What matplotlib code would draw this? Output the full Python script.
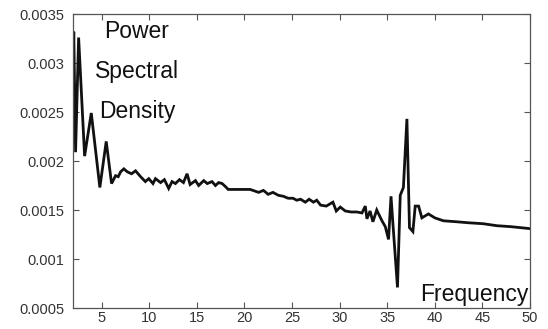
"""Power spectral density trace, single panel."""

import matplotlib

matplotlib.use("Agg")
import matplotlib.pyplot as plt

freq = [
    2.0, 2.08, 2.27, 2.59, 3.22, 3.92, 4.82, 5.49, 6.05, 6.47, 6.75, 7.0,
    7.34, 7.7, 8.15, 8.57, 9.1, 9.6, 9.96, 10.4, 10.66, 11.2, 11.6, 12.05,
    12.4, 12.76, 13.18, 13.6, 13.98, 14.3, 14.86, 15.2, 15.73, 16.1, 16.6,
    16.96, 17.3, 17.66, 18.0, 18.3, 19.0, 20.6, 21.5, 22.0, 22.5, 23.0,
    23.57, 24.1, 24.6, 25.1, 25.5, 25.9, 26.4, 26.8, 27.25, 27.6, 28.0,
    28.6, 29.3, 29.65, 30.07, 30.6, 31.2, 31.8, 32.35, 32.7, 32.87, 33.2,
    33.5, 33.9, 34.45, 34.8, 35.14, 35.4, 35.6, 36.08, 36.37, 36.7, 37.07,
    37.34, 37.7, 37.94, 38.3, 38.64, 39.33, 40.0, 40.9, 42.3, 43.5, 45.1,
    46.5, 48.0, 50.0,
]
psd = [
    0.00280, 0.00332, 0.00209, 0.00326, 0.00205, 0.00249, 0.00173, 0.00220,
    0.00177, 0.00185, 0.00184, 0.00189, 0.00192, 0.00189, 0.00187, 0.00190,
    0.00184, 0.00179, 0.00182, 0.00177, 0.00182, 0.00178, 0.00181, 0.00172,
    0.00179, 0.00177, 0.00181, 0.00178, 0.00187, 0.00176, 0.00180, 0.00175,
    0.00180, 0.00177, 0.00179, 0.00175, 0.00178, 0.00177, 0.00174, 0.00171,
    0.00171, 0.00171, 0.00168, 0.00170, 0.00166, 0.00168, 0.00165, 0.00164,
    0.00162, 0.00162, 0.00160, 0.00161, 0.00158, 0.00161, 0.00158, 0.00160,
    0.00155, 0.00154, 0.00158, 0.00149, 0.00153, 0.00149, 0.00148, 0.00148,
    0.00147, 0.00154, 0.00141, 0.00149, 0.00138, 0.00150, 0.00139, 0.00133,
    0.00120, 0.00164, 0.00136, 0.00071, 0.00165, 0.00173, 0.00243, 0.00132,
    0.00128, 0.00154, 0.00154, 0.00142, 0.00146, 0.00142, 0.00139, 0.00138,
    0.00137, 0.00136, 0.00134, 0.00133, 0.00131,
]
x_ticks = [5, 10, 15, 20, 25, 30, 35, 40, 45, 50]
y_ticks = [0.0005, 0.001, 0.0015, 0.002, 0.0025, 0.003, 0.0035]
y_labels = ["0.0005", "0.001", "0.0015", "0.002", "0.0025", "0.003", "0.0035"]

plt.rcParams["font.family"] = ["Liberation Sans", "DejaVu Sans"]

fig = plt.figure(figsize=(5.48, 3.29), dpi=100)
ax = fig.add_axes([0.1332, 0.0638, 0.834, 0.8936])

ax.plot(freq, psd, color="#111111", linewidth=2.0, solid_joinstyle="miter")

ax.set_xlim(2.0, 50.0)
ax.set_ylim(0.0005, 0.0035)
ax.set_xticks(x_ticks)
ax.set_yticks(y_ticks)
ax.set_yticklabels(y_labels)
ax.tick_params(direction="in", top=True, right=True, length=4, width=0.8,
               color="#555555", labelsize=10.5, labelcolor="#333333")
ax.tick_params(axis="x", pad=2.5)
ax.tick_params(axis="y", pad=6)
for spine in ax.spines.values():
    spine.set_color("#555555")
    spine.set_linewidth(0.9)

ax.text(0.14, 0.94, "Power", transform=ax.transAxes, fontsize=16.5,
        ha="center", va="center", color="#111111")
ax.text(0.14, 0.805, "Spectral", transform=ax.transAxes, fontsize=16.5,
        ha="center", va="center", color="#111111")
ax.text(0.14, 0.67, "Density", transform=ax.transAxes, fontsize=16.5,
        ha="center", va="center", color="#111111")
ax.text(0.997, 0.045, "Frequency", transform=ax.transAxes, fontsize=16.5,
        ha="right", va="center", color="#111111")

fig.savefig("out.png", dpi=100)
